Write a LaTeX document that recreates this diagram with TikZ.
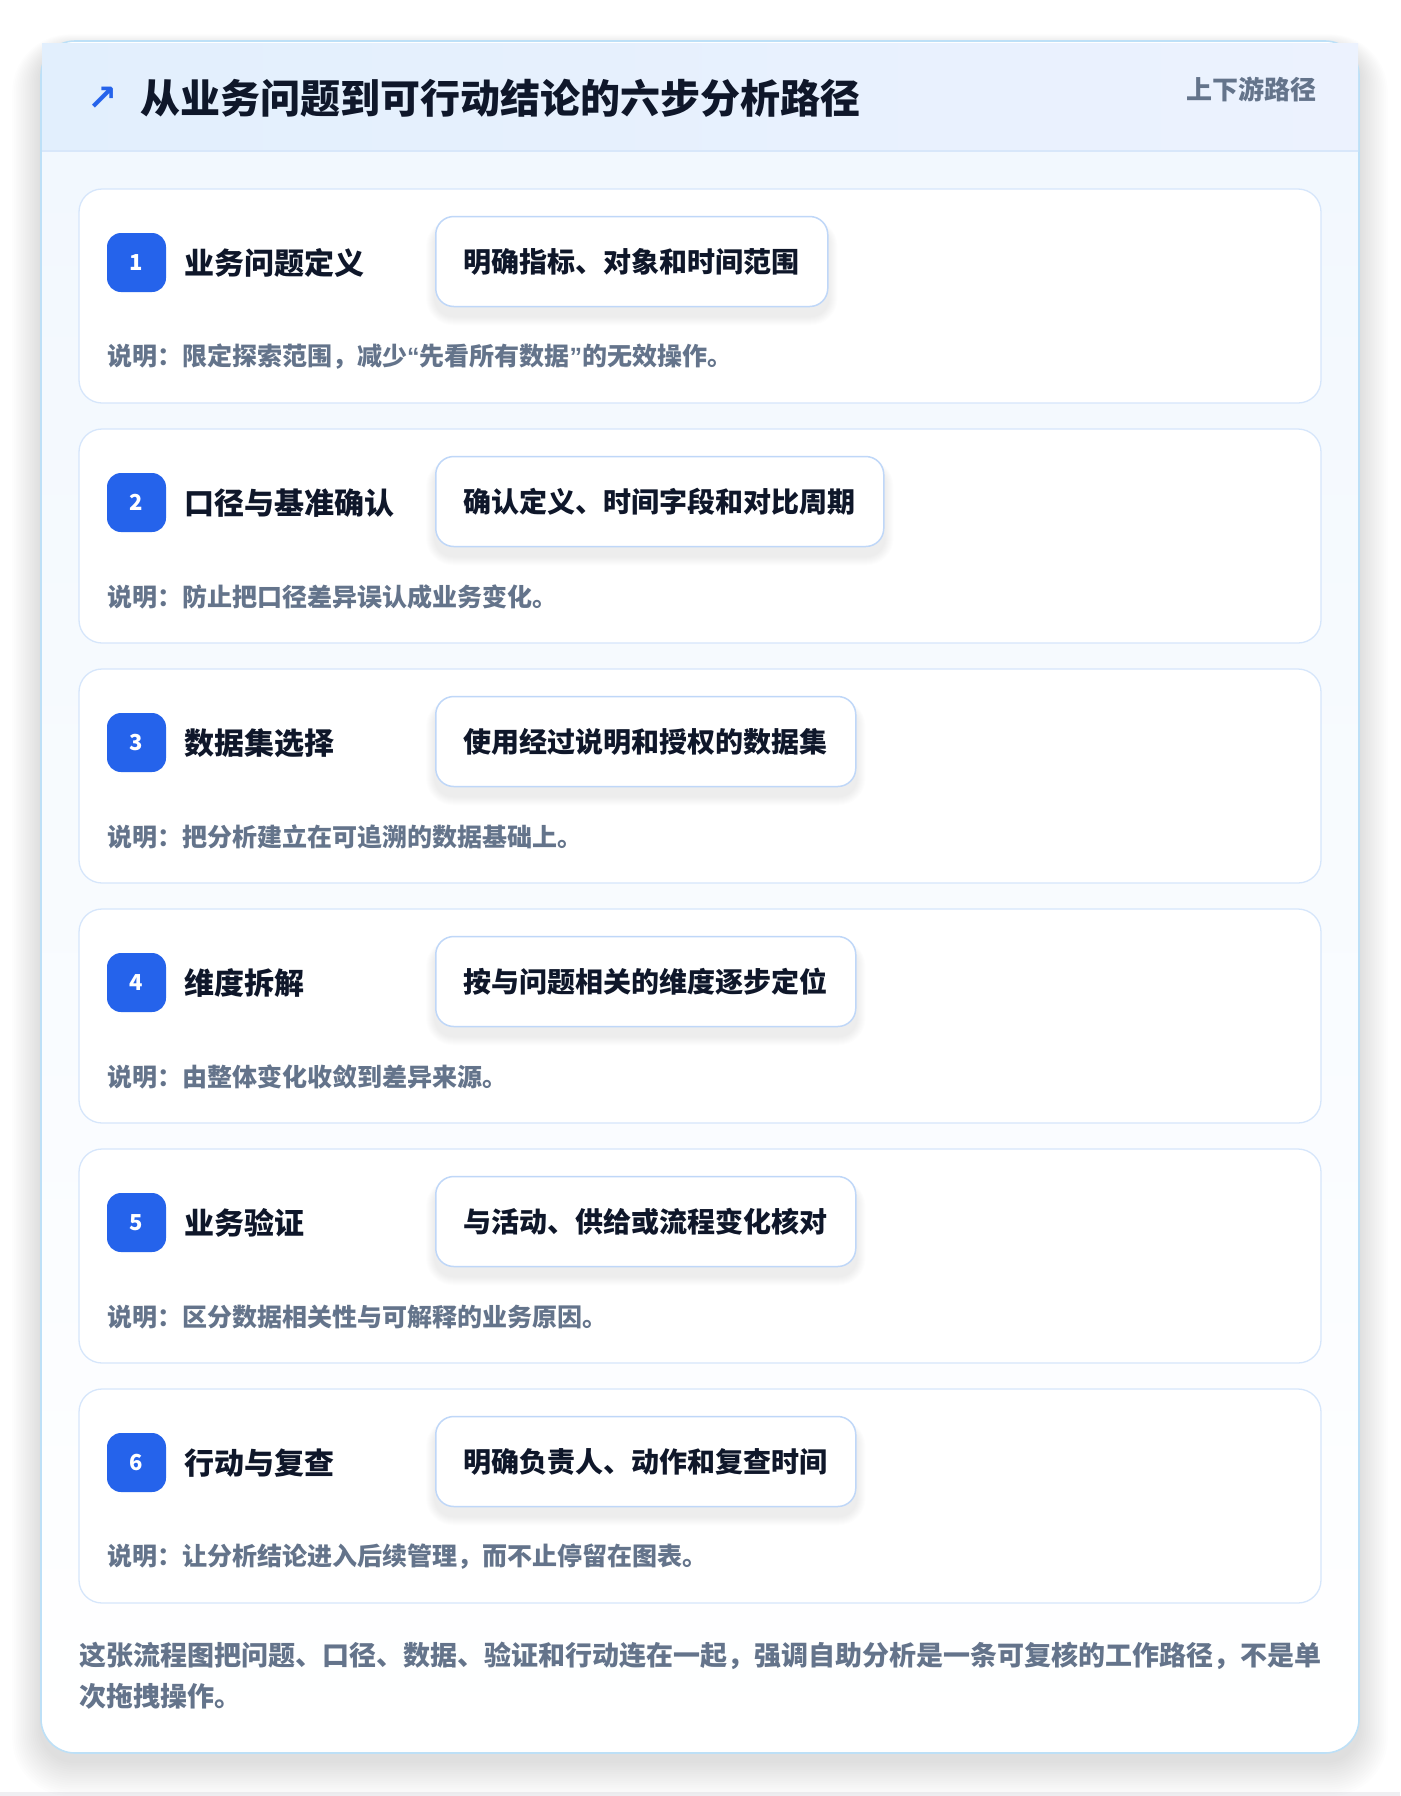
\documentclass[tikz,border=0pt]{standalone}
\usepackage{fontspec}
\setmainfont{Noto Sans CJK SC}
\newfontfamily\arrowfont{DejaVu Sans}
\newfontfamily\quotefont{Liberation Sans}
\usetikzlibrary{calc}
\pgfdeclarelayer{ground}
\pgfdeclarelayer{back}
\pgfdeclarelayer{mid}
\pgfsetlayers{ground,back,mid,main}
\definecolor{ink}{HTML}{0F172A}
\definecolor{muted}{HTML}{64748B}
\definecolor{brand}{HTML}{2563EB}
\definecolor{cardline}{HTML}{D6E6FB}
\definecolor{pillline}{HTML}{BFD7F8}
\definecolor{outerline}{HTML}{BDE0F7}
\definecolor{headL}{HTML}{E2EFFD}
\definecolor{headR}{HTML}{ECF2FE}
\definecolor{headrule}{HTML}{D8E7FA}
\definecolor{bodyT}{HTML}{F2F8FE}
\definecolor{floorgray}{HTML}{EFEFF2}
\newcommand\setfs[2]{\fontsize{#1}{#2}\selectfont}
\newcommand\qq[1]{{\quotefont\bfseries #1}}
\begin{document}
\begin{tikzpicture}[x=1pt,y=-1pt,
  cardbox/.style={draw=cardline, line width=1.3, fill=white, rounded corners=23,
    minimum width=1242, minimum height=214, inner sep=0},
  badge/.style={fill=brand, rounded corners=14, minimum size=59, inner sep=0,
    text=white, font=\setfs{22}{22}\bfseries},
  pill/.style={draw=pillline, line width=1.5, fill=white, rounded corners=18,
    minimum height=90, inner xsep=28, inner ysep=0, text=ink, font=\setfs{28}{28}\bfseries},
  steptitle/.style={inner sep=0, text=ink, font=\setfs{30}{30}\bfseries},
  desc/.style={inner sep=0, text=muted, font=\setfs{25}{25}\bfseries},
  note/.style={inner sep=0, text=muted, align=left, font=\setfs{27}{41}\bfseries},
]
\useasboundingbox (0,0) rectangle (1400,1796);
\begin{pgfonlayer}{ground}
\fill[white] (0,0) rectangle (1400,1796);
\fill[floorgray] (0,1792) rectangle (1400,1796);
% soft shadow of the outer card
\foreach \k in {1,...,16} {
  \fill[black, opacity=0.0065, rounded corners=34+1.5*\k]
    ({41-1.8*\k},{47-0.8*\k}) rectangle ({1359+1.8*\k},{1761+2.2*\k});
}
% outer card
\path[fill=white, rounded corners=34] (41,41) rectangle (1359,1753);
\begin{scope}
  \clip[rounded corners=34] (41,41) rectangle (1359,1753);
  \shade[top color=bodyT, bottom color=white] (41,151) rectangle (1359,1753);
\end{scope}
\draw[outerline, line width=1.6, rounded corners=34] (41,41) rectangle (1359,1753);
% header band
\shade[left color=headL, right color=headR] (42,43.5) rectangle (1358,151);
\draw[headrule, line width=1.5] (42,151) -- (1358,151);
\end{pgfonlayer}
\node[inner sep=0, text=brand, font=\arrowfont\bfseries\setfs{36}{36}] (icon) at (103,99) {↗};
\node[anchor=west, inner sep=0, text=ink, font=\setfs{40}{40}\bfseries] (title) at (140,98) {从业务问题到可行动结论的六步分析路径};
\node[anchor=east, inner sep=0, text=muted, font=\setfs{26}{26}\bfseries] (tag) at (1317,89) {上下游路径};
% steps
\foreach \i/\ttl/\pil/\dsc [evaluate=\i as \cy using 189+240*(\i-1)] in {
  1/业务问题定义/明确指标、对象和时间范围/说明：限定探索范围，减少\qq{“}先看所有数据\qq{”}的无效操作。,
  2/口径与基准确认/确认定义、时间字段和对比周期/说明：防止把口径差异误认成业务变化。,
  3/数据集选择/使用经过说明和授权的数据集/说明：把分析建立在可追溯的数据基础上。,
  4/维度拆解/按与问题相关的维度逐步定位/说明：由整体变化收敛到差异来源。,
  5/业务验证/与活动、供给或流程变化核对/说明：区分数据相关性与可解释的业务原因。,
  6/行动与复查/明确负责人、动作和复查时间/说明：让分析结论进入后续管理，而不止停留在图表。} {
  \begin{pgfonlayer}{back}
    \node[cardbox] (card\i) at (700,\cy+107) {};
  \end{pgfonlayer}
  \node[badge] (badge\i) at (136.5,\cy+73.5) {\i};
  \node[steptitle, anchor=west] (title\i) at (184,\cy+74) {\ttl};
  \node[pill, anchor=west] (pill\i) at (435,\cy+72.5) {\pil};
  \begin{pgfonlayer}{mid}
    \foreach \k in {1,...,9} {
      \fill[black, opacity=0.006, rounded corners=18+\k]
        ($(pill\i.north west)+(-\k,{9-0.6*\k})$) rectangle ($(pill\i.south east)+(\k,{9+\k})$);
    }
  \end{pgfonlayer}
  \node[desc, anchor=west] (desc\i) at (107,\cy+168) {\dsc};
}
\node[note, anchor=base west] (note) at (79,1706) {这张流程图把问题、口径、数据、验证和行动连在一起，强调自助分析是一条可复核的工作路径，不是单\\次拖拽操作。};
\end{tikzpicture}
\end{document}
